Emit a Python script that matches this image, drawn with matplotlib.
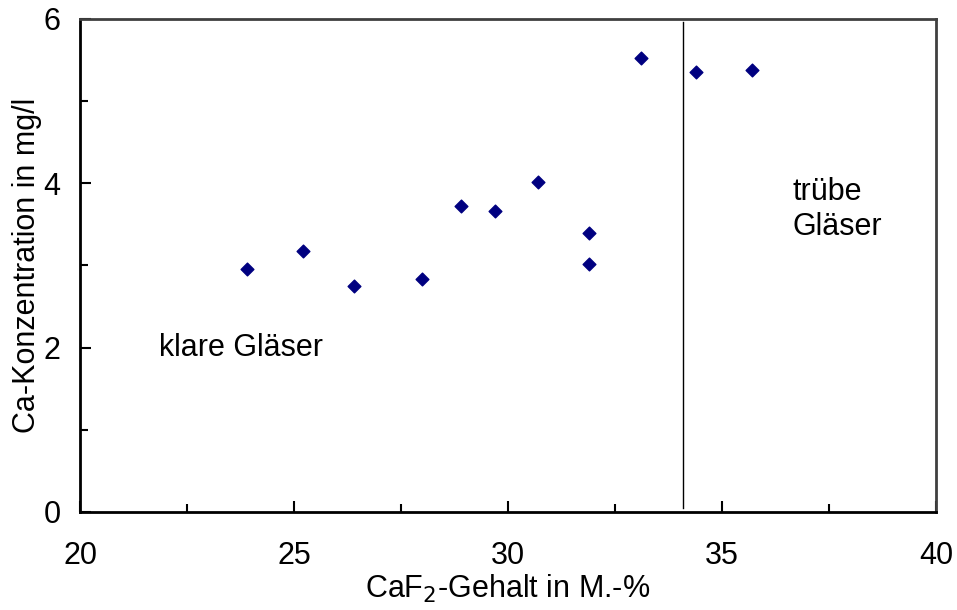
import matplotlib
matplotlib.use("Agg")
import matplotlib.pyplot as plt
from matplotlib.ticker import MultipleLocator

plt.rcParams['font.family'] = ['Liberation Sans', 'DejaVu Sans']

# CaF2-Gehalt (M.-%) und Ca-Konzentration (mg/l)
caf2 = [23.9, 25.2, 26.4, 28.0, 28.9, 29.7, 30.7, 31.9, 31.9, 33.1, 34.4, 35.7]
ca = [2.96, 3.18, 2.75, 2.84, 3.72, 3.66, 4.02, 3.40, 3.02, 5.53, 5.35, 5.38]
grenze = 34.1  # Grenze klar / trüb

fig = plt.figure(figsize=(9.57, 6.1), dpi=100)
ax = fig.add_axes([0.0836, 0.1607, 0.8944, 0.8082])

ax.scatter(caf2, ca, marker='D', s=42, color='#000080', zorder=3)
ax.plot([grenze, grenze], [0.05, 5.96], color='black', lw=1)

ax.text(21.85, 2.0, 'klare Gläser', fontsize=22, va='center', ha='left')
ax.text(36.65, 3.68, 'trübe\nGläser', fontsize=22, va='center', ha='left', linespacing=1.2)

ax.set_xlim(20, 40)
ax.set_ylim(0, 6)
ax.xaxis.set_major_locator(MultipleLocator(5))
ax.xaxis.set_minor_locator(MultipleLocator(2.5))
ax.yaxis.set_major_locator(MultipleLocator(2))
ax.yaxis.set_minor_locator(MultipleLocator(1))
ax.tick_params(which='both', direction='in', labelsize=22, width=1.5)
ax.tick_params(which='major', length=8)
ax.tick_params(which='minor', length=6)
ax.tick_params(axis='x', pad=21)
ax.tick_params(axis='y', pad=14)
for s in ['left', 'bottom']:
    ax.spines[s].set_linewidth(2)
for s in ['top', 'right']:
    ax.spines[s].set_linewidth(2)
    ax.spines[s].set_color('#404040')

ax.set_xlabel('CaF$_2$-Gehalt in M.-%', fontsize=22, labelpad=1)
ax.set_ylabel('Ca-Konzentration in mg/l', fontsize=22, labelpad=1)

fig.savefig('out.png', dpi=100)
